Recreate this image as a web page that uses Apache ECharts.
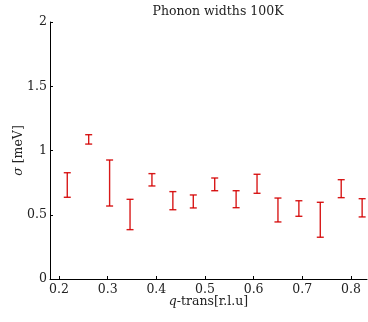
<!DOCTYPE html>
<html>
<head>
<meta charset="utf-8">
<script src="https://cdn.jsdelivr.net/npm/echarts@6/dist/echarts.min.js"></script>
<style>html,body{margin:0;padding:0;background:#fff;}#c{width:368px;height:322px;}</style>
</head>
<body>
<div id="c"></div>
<script>
var qValues = [0.217, 0.261, 0.304, 0.346, 0.391, 0.434, 0.476, 0.520, 0.564, 0.607, 0.650, 0.693, 0.737, 0.780, 0.823];
var sigmaLow = [0.636, 1.050, 0.568, 0.384, 0.724, 0.539, 0.553, 0.687, 0.555, 0.667, 0.444, 0.488, 0.325, 0.633, 0.483];
var sigmaHigh = [0.827, 1.123, 0.926, 0.620, 0.820, 0.680, 0.654, 0.786, 0.687, 0.815, 0.630, 0.609, 0.597, 0.773, 0.625];
var xTicks = [0.2, 0.3, 0.4, 0.5, 0.6, 0.7, 0.8];
var yTicks = [0, 0.5, 1, 1.5, 2];

var data = qValues.map(function (q, i) { return [q, sigmaLow[i], sigmaHigh[i]]; });
var font = '"DejaVu Serif", "Liberation Serif", serif';
var fs = 12.5;
var chart = echarts.init(document.getElementById('c'), null, {renderer: 'canvas'});
chart.setOption({
  animation: false,
  backgroundColor: '#fff',
  title: {
    text: 'Phonon widths 100K',
    left: 213, top: 0, textAlign: 'center',
    textStyle: {fontFamily: font, fontSize: fs, fontWeight: 'normal', color: '#222'}
  },
  grid: {left: 50, right: 1, top: 22, bottom: 43, containLabel: false, outerBoundsMode: 'none'},
  xAxis: {
    type: 'value', min: 0.1815, max: 0.833,
    name: '{i|q}-trans[r.l.u]', nameLocation: 'middle', nameGap: 16, nameMoveOverlap: false,
    nameTextStyle: {fontFamily: font, fontSize: fs, color: '#222', verticalAlign: 'top',
      rich: {i: {fontFamily: font, fontStyle: 'italic', fontSize: fs, color: '#222'}}},
    axisLine: {lineStyle: {color: '#000', width: 1}},
    axisTick: {inside: true, length: 3, lineStyle: {color: '#000'}, customValues: xTicks},
    axisLabel: {customValues: xTicks, fontFamily: font, fontSize: fs, color: '#222', margin: 4,
      formatter: function (v) { return v.toFixed(1); }},
    splitLine: {show: false}
  },
  yAxis: {
    type: 'value', min: 0, max: 2,
    name: '{i|σ} [meV]', nameLocation: 'middle', nameGap: 25, nameRotate: 90, nameMoveOverlap: false,
    nameTextStyle: {fontFamily: font, fontSize: fs, color: '#222',
      rich: {i: {fontFamily: font, fontStyle: 'italic', fontSize: fs, color: '#222'}}},
    axisLine: {show: true, lineStyle: {color: '#000', width: 1}},
    axisTick: {show: true, inside: true, length: 3, lineStyle: {color: '#000'}, customValues: yTicks},
    axisLabel: {customValues: yTicks, fontFamily: font, fontSize: fs, color: '#222', margin: 3,
      formatter: function (v) { return String(v); }},
    splitLine: {show: false}
  },
  series: [{
    type: 'custom',
    data: data,
    encode: {x: 0, y: [1, 2]},
    renderItem: function (params, api) {
      var lo = api.coord([api.value(0), api.value(1)]);
      var hi = api.coord([api.value(0), api.value(2)]);
      var w = 3.5;
      var style = {stroke: '#d40000', lineWidth: 1.4, opacity: 0.9};
      return {
        type: 'group',
        children: [
          {type: 'line', shape: {x1: lo[0], y1: lo[1], x2: hi[0], y2: hi[1]}, style: style},
          {type: 'line', shape: {x1: lo[0] - w, y1: lo[1], x2: lo[0] + w, y2: lo[1]}, style: style},
          {type: 'line', shape: {x1: hi[0] - w, y1: hi[1], x2: hi[0] + w, y2: hi[1]}, style: style}
        ]
      };
    }
  }]
});
</script>
</body>
</html>
